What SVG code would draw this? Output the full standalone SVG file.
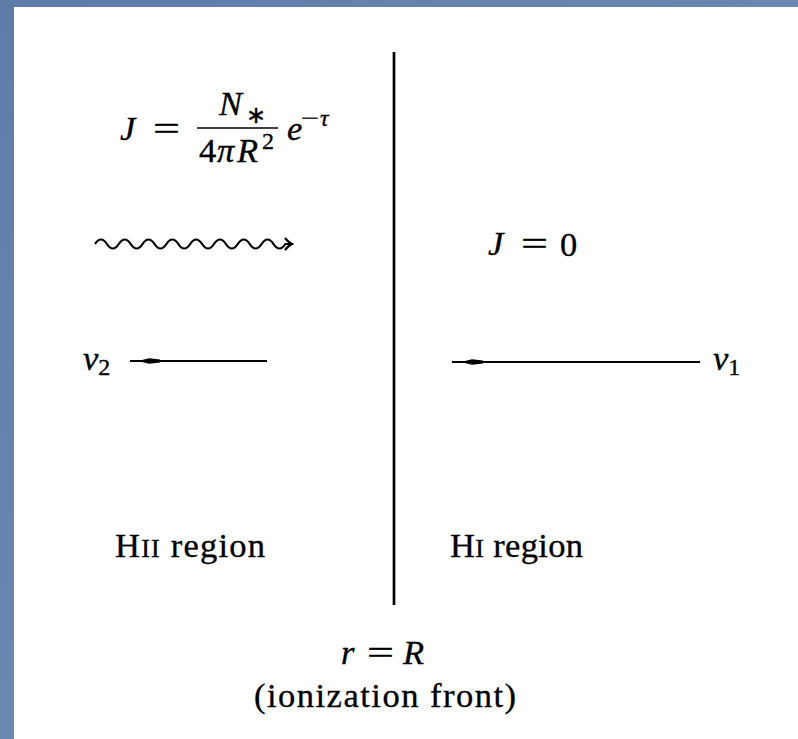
<svg xmlns="http://www.w3.org/2000/svg" width="798" height="739" viewBox="0 0 798 739">
<style>
.t{font-family:"Liberation Serif","Times New Roman",serif;font-size:34.5px;fill:#000;stroke:#000;stroke-width:0.35px}
.i{font-style:italic}
.s{font-size:24px}
.ln{stroke:#000;fill:none}
.hd{fill:#000;stroke:none}
</style>
<defs>
<linearGradient id="bg" x1="0" y1="0" x2="1" y2="1">
<stop offset="0" stop-color="#5d7ca8"/>
<stop offset="0.5" stop-color="#6a88b0"/>
<stop offset="1" stop-color="#56759f"/>
</linearGradient>
</defs>
<rect width="798" height="739" fill="url(#bg)"/>
<rect x="14" y="7" width="784" height="732" fill="#fff"/>

<g id="formula">
<text class="t i" x="120" y="140">J</text>
<text class="t" x="153" y="140" textLength="27" lengthAdjust="spacingAndGlyphs">=</text>
<text class="t i" x="219" y="115">N<tspan class="s" font-style="normal" x="246" dy="8">∗</tspan></text>
<line class="ln" x1="197" y1="128" x2="278" y2="128" stroke-width="1.6"/>
<text class="t" x="199" y="162">4<tspan class="i" x="217">π</tspan><tspan class="i" x="237">R</tspan><tspan class="s" x="262" dy="-13">2</tspan></text>
<text class="t i" x="287" y="140">e</text>
<text class="t s" x="301" y="126" textLength="18" lengthAdjust="spacingAndGlyphs">−</text>
<text class="t s i" x="320" y="126">τ</text>
</g>

<g id="j-zero">
<text class="t i" x="488" y="255">J</text>
<text class="t" x="521" y="255" textLength="27" lengthAdjust="spacingAndGlyphs">=</text>
<text class="t" x="560" y="256">0</text>
</g>

<g id="v2-label">
<text class="t i" x="83" y="370">v<tspan class="s" font-style="normal" dy="5">2</tspan></text>
</g>

<g id="v1-label">
<text class="t i" x="713" y="370">v<tspan class="s" font-style="normal" dy="5">1</tspan></text>
</g>

<g id="hii-region">
<text class="t" x="115" y="557" textLength="150" lengthAdjust="spacing">H<tspan font-size="26">II</tspan> region</text>
</g>

<g id="hi-region">
<text class="t" x="450" y="557" textLength="133" lengthAdjust="spacing">H<tspan font-size="26">I</tspan> region</text>
</g>

<g id="front-label">
<text class="t i" x="341" y="664">r</text>
<text class="t" x="367" y="664" textLength="27" lengthAdjust="spacingAndGlyphs">=</text>
<text class="t i" x="403" y="664">R</text>
<text class="t" x="385" y="707" text-anchor="middle" textLength="262" lengthAdjust="spacing">(ionization front)</text>
</g>

<g id="connectors">
<line id="front" class="ln" x1="394" y1="52" x2="394" y2="605" stroke-width="2.7"/>
<path id="wave" class="ln" stroke-width="2.2" d="M95,244 q5.95,-9 11.9,0 t11.9,0 t11.9,0 t11.9,0 t11.9,0 t11.9,0 t11.9,0 t11.9,0 t11.9,0 t11.9,0 t11.9,0 t11.9,0 t11.9,0 t11.9,0 t11.9,0 t11.9,0 l6,0"/>
<path class="ln" stroke-width="2.2" d="M285,238 Q288,242 292,244 Q288,246 285,250"/>
<line class="ln" x1="130" y1="361" x2="267" y2="361" stroke-width="1.8"/>
<polygon class="hd" points="138,361 149,358.2 160,359.4 160,362.6 149,363.8"/>
<line class="ln" x1="452" y1="362" x2="700" y2="362" stroke-width="1.8"/>
<polygon class="hd" points="461,362 472,359.2 483,360.4 483,363.6 472,364.8"/>
</g>
</svg>
